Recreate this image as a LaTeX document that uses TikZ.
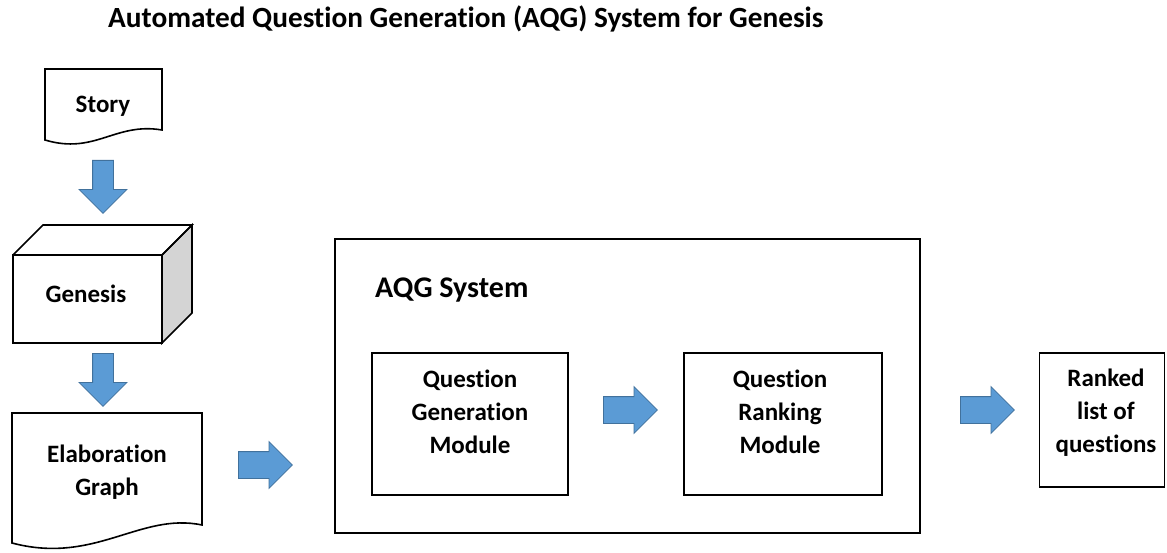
\documentclass[tikz,border=0pt]{standalone}
\usepackage{fontspec}
\setmainfont[Ligatures=NoCommon]{Carlito}
\usetikzlibrary{shapes.arrows}
\definecolor{arrowfill}{HTML}{5B9BD5}
\definecolor{arrowedge}{HTML}{41719C}
\definecolor{sidegrey}{HTML}{D4D4D4}
\begin{document}
\begin{tikzpicture}[x=1pt,y=-1pt,
  box/.style={draw=black, line width=1.6pt, line join=miter},
  body/.style={font=\bfseries\fontsize{25}{33}\selectfont, align=center, inner sep=0pt},
  modbox/.style={draw=black, line width=1.6pt, inner sep=0pt},
  rarrow/.style={single arrow, anchor=tail, draw=arrowedge, fill=arrowfill, line width=0.8pt,
    minimum height=54pt, single arrow head extend=10pt, inner xsep=0pt, inner ysep=13pt},
  darrow/.style={single arrow, anchor=tail, rotate=-90, draw=arrowedge, fill=arrowfill, line width=0.8pt,
    minimum height=53pt, single arrow head extend=13.5pt, inner xsep=0pt, inner ysep=10pt}]
\useasboundingbox (0,0) rectangle (1167,553);

% title
\node[font=\bfseries\fontsize{29.3}{34}\selectfont, anchor=base west, inner sep=0pt] (title) at (108,28)
  {Automated Question Generation (AQG) System for Genesis};

% Story document
\draw[box] (45,69) -- (162,69) -- (162,130) .. controls (115,122) and (95,155) .. (45,140) -- cycle;
\node[body, anchor=base] (story) at (103,113) {Story};

% arrow story -> genesis
\node[darrow] (a1) at (103,160) {};

% Genesis cube
\filldraw[box, fill=sidegrey] (162,255) -- (192,225) -- (192,313) -- (162,343) -- cycle;
\draw[box] (13,255) -- (43,225) -- (192,225) -- (162,255);
\draw[box] (13,255) rectangle (162,343);
\node[body, anchor=base] (genesis) at (86,302) {Genesis};

% arrow genesis -> elaboration
\node[darrow] (a2) at (103,353) {};

% Elaboration graph document
\draw[box] (12,413) -- (202,413) -- (202,525) .. controls (140,512) and (95,565) .. (12,543) -- cycle;
\node[body] (elab) at (107,472) {Elaboration\\Graph};

% arrow elaboration -> AQG
\node[rarrow] (a3) at (238,465) {};

% AQG system box
\node[modbox, minimum width=585pt, minimum height=294pt] (aqg) at (627.5,386) {};
\node[font=\bfseries\fontsize{30}{35}\selectfont, anchor=base west, inner sep=0pt] (aqgt) at (375,298) {AQG System};

% Question generation module
\node[modbox, minimum width=196pt, minimum height=142pt] (qgm) at (470,424) {};
\node[body] (qgmt) at (470,412) {Question\\Generation\\Module};

% arrow
\node[rarrow] (a4) at (603,410) {};

% Question ranking module
\node[modbox, minimum width=198pt, minimum height=142pt] (qrm) at (783,424) {};
\node[body] (qrmt) at (780,412) {Question\\Ranking\\Module};

% arrow
\node[rarrow] (a5) at (960,410) {};

% Ranked list
\node[modbox, minimum width=125pt, minimum height=134pt] (rl) at (1102,420) {};
\node[body] (rlt) at (1106,413) {Ranked\\list of\\questions};
\end{tikzpicture}
\end{document}
